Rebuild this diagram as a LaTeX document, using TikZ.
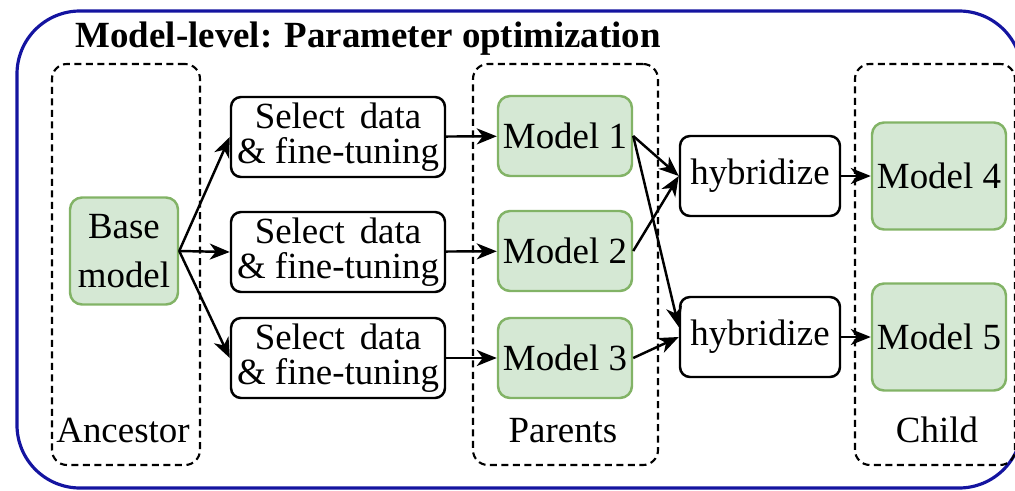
\documentclass[tikz,border=0pt]{standalone}
\usepackage{fontspec}
\setmainfont{Liberation Serif}
\usetikzlibrary{arrows.meta}
\definecolor{frameblue}{RGB}{20,20,160}
\definecolor{modelfill}{HTML}{D5E8D4}
\definecolor{modeldraw}{HTML}{82B366}
\tikzset{
  model/.style={draw=modeldraw, fill=modelfill, line width=0.7pt, rounded corners=0.12cm, align=center, inner sep=0pt},
  stepbox/.style={draw, fill=white, line width=0.7pt, rounded corners=0.1cm, align=center, inner sep=0pt},
  group/.style={draw, dash pattern=on 0.07cm off 0.045cm, line width=0.6pt, rounded corners=0.15cm, inner sep=0pt},
  flow/.style={-{Stealth[length=0.2cm, width=0.16cm, inset=0.06cm]}, line width=0.7pt},
}
\begin{document}
\begin{tikzpicture}[font=\fontsize{10.5pt}{10pt}\selectfont]
\useasboundingbox (0,0) rectangle (10.15,4.90);
\draw[frameblue, line width=0.9pt, rounded corners=0.63cm] (0.17,0.02) rectangle (10.22,4.79);
\node (title) at (0.75,4.43) [anchor=base west, inner sep=0pt] {\bfseries Model-level: Parameter optimization};
% groups
\node (ancestor) at (1.26,2.255) [group, minimum width=1.48cm, minimum height=4.01cm] {};
\node (parents) at (5.655,2.255) [group, minimum width=1.85cm, minimum height=4.01cm] {};
\node (child) at (9.35,2.255) [group, minimum width=1.60cm, minimum height=4.01cm] {};
\node (ancestorlabel) at (1.23,0.48) [anchor=base, inner sep=0pt] {Ancestor};
\node (parentslabel) at (5.63,0.48) [anchor=base, inner sep=0pt] {Parents};
\node (childlabel) at (9.37,0.48) [anchor=base, inner sep=0pt] {Child};
% nodes
\node (base) at (1.24,2.39) [model, minimum width=1.08cm, minimum height=1.07cm] {Base\\[3.9pt]model};
\node (s1) at (3.38,3.53) [stepbox, minimum width=2.14cm, minimum height=0.80cm] {Select\hspace{0.4em}data\\\& fine-tuning};
\node (s2) at (3.38,2.38) [stepbox, minimum width=2.14cm, minimum height=0.80cm] {Select\hspace{0.4em}data\\\& fine-tuning};
\node (s3) at (3.38,1.32) [stepbox, minimum width=2.14cm, minimum height=0.80cm] {Select\hspace{0.4em}data\\\& fine-tuning};
\node (m1) at (5.65,3.54) [model, minimum width=1.34cm, minimum height=0.80cm] {Model 1};
\node (m2) at (5.65,2.39) [model, minimum width=1.34cm, minimum height=0.80cm] {Model 2};
\node (m3) at (5.65,1.32) [model, minimum width=1.34cm, minimum height=0.80cm] {Model 3};
\node (h1) at (7.60,3.14) [stepbox, minimum width=1.60cm, minimum height=0.80cm] {hybridize};
\node (h2) at (7.60,1.53) [stepbox, minimum width=1.60cm, minimum height=0.80cm] {hybridize};
\node (m4) at (9.39,3.14) [model, minimum width=1.34cm, minimum height=1.07cm] {Model 4};
\node (m5) at (9.39,1.53) [model, minimum width=1.34cm, minimum height=1.07cm] {Model 5};
% arrows
\draw[flow] (base.east) -- (s1.west);
\draw[flow] (base.east) -- (s2.west);
\draw[flow] (base.east) -- (s3.west);
\draw[flow] (s1) -- (m1);
\draw[flow] (s2) -- (m2);
\draw[flow] (s3) -- (m3);
\draw[flow] (m1.east) -- (h1.west);
\draw[flow] (m1.east) -- ([yshift=0.1cm]h2.west);
\draw[flow] (m2.east) -- (h1.west);
\draw[flow] (m3.east) -- (h2.west);
\draw[flow] (h1) -- (m4);
\draw[flow] (h2) -- (m5);
\end{tikzpicture}
\end{document}
